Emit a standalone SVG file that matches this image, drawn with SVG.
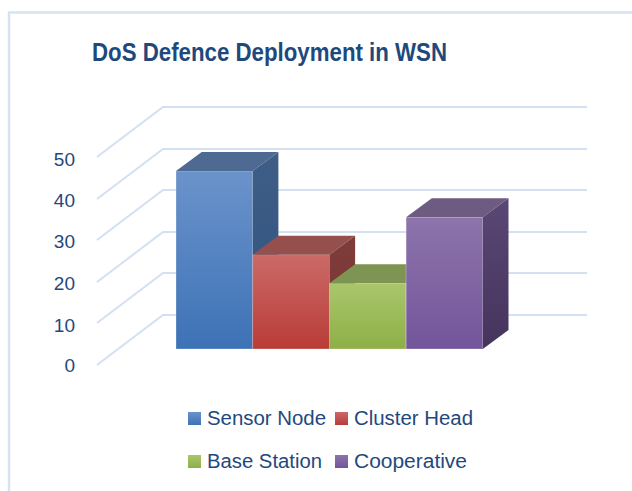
<svg xmlns="http://www.w3.org/2000/svg" width="632" height="491" viewBox="0 0 632 491">
<style>
.grid{stroke:#d3e0f1;stroke-width:2;fill:none}
.frame{stroke:#d6e3f3;stroke-width:2.5;fill:none}
.title{font-family:"Liberation Sans",Arial,sans-serif;font-weight:bold;font-size:26px;fill:#1f497d}
.axis{font-family:"Liberation Sans",Arial,sans-serif;font-size:19px;fill:#1f497d;text-anchor:end}
.leg{font-family:"Liberation Sans",Arial,sans-serif;font-size:19.5px;fill:#1f497d}
.edge{stroke:#ffffff;stroke-opacity:0.35;stroke-width:0.8}
</style>
<defs>
<linearGradient id="gBlue" x1="0" y1="0" x2="0" y2="1"><stop offset="0" stop-color="#6b93cb"/><stop offset="1" stop-color="#3d72b6"/></linearGradient>
<linearGradient id="gBlueS" x1="0" y1="0" x2="0" y2="1"><stop offset="0" stop-color="#3f5e86"/><stop offset="1" stop-color="#2f5282"/></linearGradient>
<linearGradient id="gRed" x1="0" y1="0" x2="0" y2="1"><stop offset="0" stop-color="#cb6a67"/><stop offset="1" stop-color="#b93b37"/></linearGradient>
<linearGradient id="gRedS" x1="0" y1="0" x2="0" y2="1"><stop offset="0" stop-color="#7e3c3a"/><stop offset="1" stop-color="#7a3533"/></linearGradient>
<linearGradient id="gGreen" x1="0" y1="0" x2="0" y2="1"><stop offset="0" stop-color="#aac66d"/><stop offset="1" stop-color="#8daf46"/></linearGradient>
<linearGradient id="gPurple" x1="0" y1="0" x2="0" y2="1"><stop offset="0" stop-color="#8d74ab"/><stop offset="1" stop-color="#72559a"/></linearGradient>
<linearGradient id="gPurpleS" x1="0" y1="0" x2="0" y2="1"><stop offset="0" stop-color="#5a4775"/><stop offset="1" stop-color="#45345c"/></linearGradient>
</defs>
<rect x="0" y="0" width="632" height="491" fill="#ffffff"/>
<path class="frame" d="M9 491 V12.5 H632"/>
<g id="title"><text class="title" x="269.5" y="61" text-anchor="middle" textLength="355" lengthAdjust="spacingAndGlyphs">DoS Defence Deployment in WSN</text></g>
<g id="grid">
<path class="grid" d="M97 157 L163 107 H587"/>
<path class="grid" d="M97 199 L163 149 H587"/>
<path class="grid" d="M97 240 L163 190 H587"/>
<path class="grid" d="M97 282 L163 232 H587"/>
<path class="grid" d="M97 323 L163 273 H587"/>
<path class="grid" d="M97 365 L163 315 H587"/>
</g>
<g id="axis">
<text class="axis" x="75" y="166">50</text>
<text class="axis" x="75" y="207">40</text>
<text class="axis" x="75" y="248">30</text>
<text class="axis" x="75" y="290">20</text>
<text class="axis" x="75" y="332">10</text>
<text class="axis" x="75" y="372">0</text>
</g>
<g id="bar-sensor-node">
<rect class="edge" x="176" y="171" width="76.7" height="178" fill="url(#gBlue)"/>
<polygon points="176,171 252.7,171 278.4,152 201.7,152" fill="#4e6a92"/>
<polygon points="252.7,171 278.4,152 278.4,330 252.7,349" fill="url(#gBlueS)"/>
</g>
<g id="bar-cluster-head">
<rect class="edge" x="252.7" y="254.7" width="76.7" height="94.3" fill="url(#gRed)"/>
<polygon points="252.7,254.7 329.4,254.7 355.1,235.7 278.4,235.7" fill="#95504d"/>
<polygon points="329.4,254.7 355.1,235.7 355.1,330 329.4,349" fill="url(#gRedS)"/>
</g>
<g id="bar-base-station">
<rect class="edge" x="329.4" y="283.3" width="76.7" height="65.7" fill="url(#gGreen)"/>
<polygon points="329.4,283.3 406.1,283.3 431.8,264.3 355.1,264.3" fill="#7e9452"/>
</g>
<g id="bar-cooperative">
<rect class="edge" x="406.1" y="217.3" width="76.7" height="131.7" fill="url(#gPurple)"/>
<polygon points="406.1,217.3 482.8,217.3 508.5,198.3 431.8,198.3" fill="#6e5b81"/>
<polygon points="482.8,217.3 508.5,198.3 508.5,330 482.8,349" fill="url(#gPurpleS)"/>
</g>
<g id="legend">
<rect x="188" y="412" width="13" height="13" fill="url(#gBlue)"/>
<text class="leg" x="207" y="425" textLength="119" lengthAdjust="spacingAndGlyphs">Sensor Node</text>
<rect x="335" y="412" width="13" height="13" fill="url(#gRed)"/>
<text class="leg" x="354" y="425" textLength="119" lengthAdjust="spacingAndGlyphs">Cluster Head</text>
<rect x="188" y="455" width="13" height="13" fill="url(#gGreen)"/>
<text class="leg" x="207" y="468" textLength="115" lengthAdjust="spacingAndGlyphs">Base Station</text>
<rect x="335" y="455" width="13" height="13" fill="url(#gPurple)"/>
<text class="leg" x="354" y="468" textLength="113" lengthAdjust="spacingAndGlyphs">Cooperative</text>
</g>
</svg>
